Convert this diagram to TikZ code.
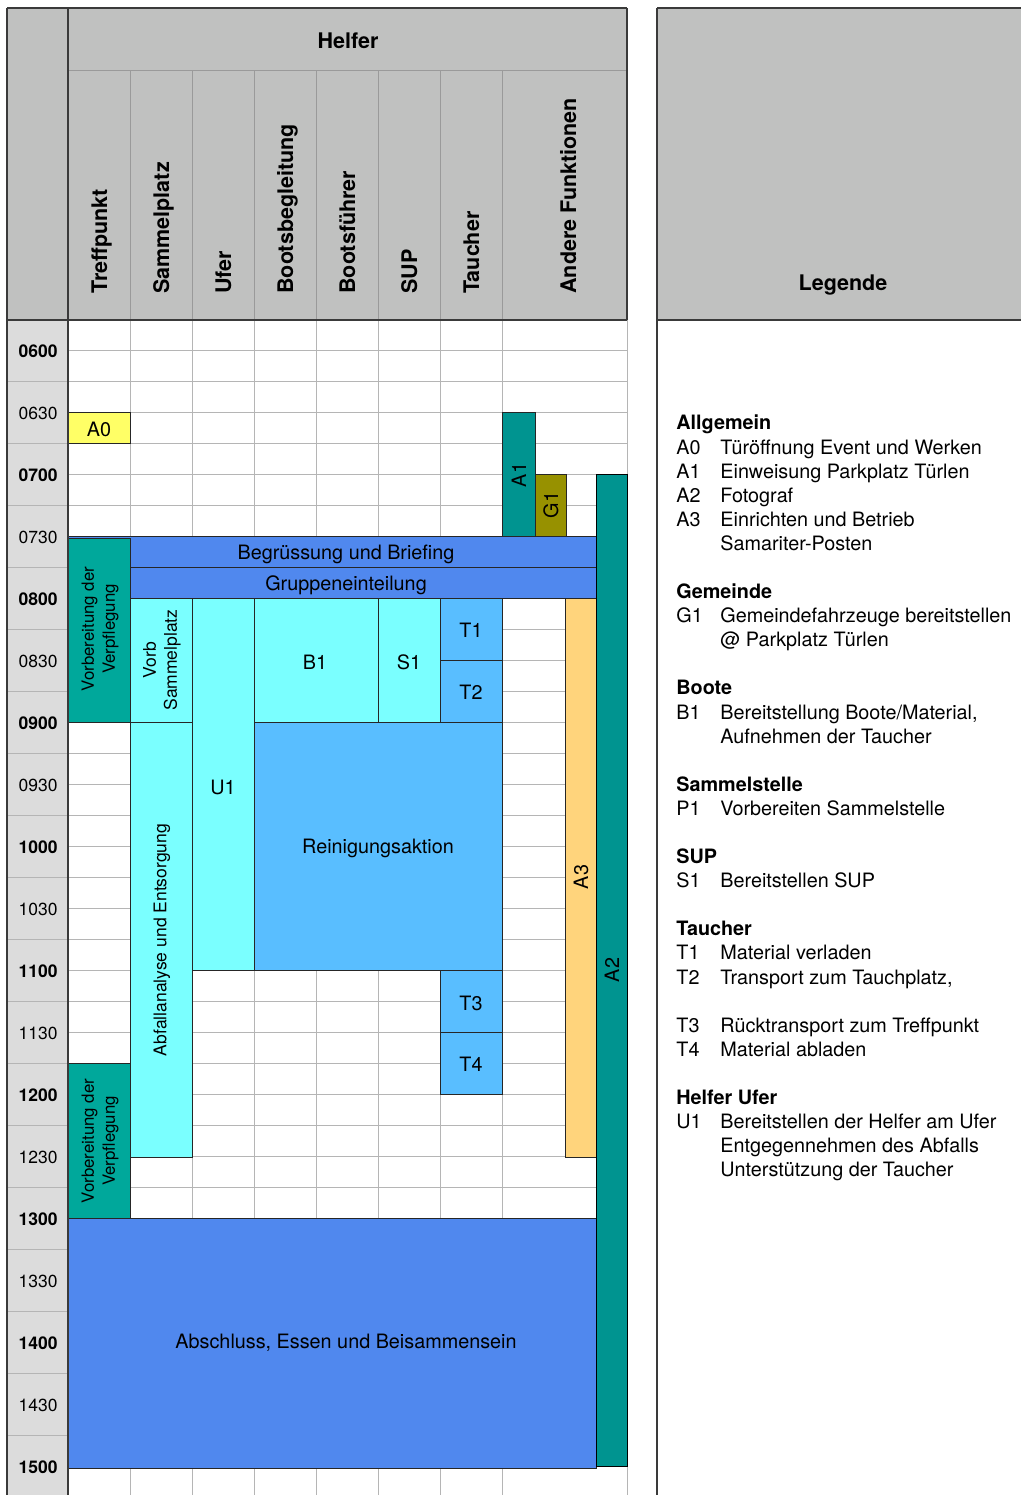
\documentclass[tikz,border=0pt]{standalone}
\usepackage{fontspec}
\setmainfont{TeX Gyre Heros}
\definecolor{hdr}{HTML}{C0C1C0}
\definecolor{tcol}{HTML}{DCDCDC}
\definecolor{gridc}{HTML}{B5B5B5}
\definecolor{framec}{HTML}{3A3A3A}
\definecolor{blueA}{HTML}{5088EE}
\definecolor{cyanA}{HTML}{7AFFFF}
\definecolor{lblue}{HTML}{59BEFF}
\definecolor{tealA}{HTML}{00A89B}
\definecolor{tealB}{HTML}{009490}
\definecolor{oliveA}{HTML}{979100}
\definecolor{orangeA}{HTML}{FFD47C}
\definecolor{yellowA}{HTML}{FFFF66}
\newcommand\fsMain{\fontsize{9.9pt}{12pt}\selectfont}
\newcommand\fsHead{\fontsize{10.75pt}{13pt}\selectfont\bfseries}
\newcommand\fsSmall{\fontsize{8.4pt}{10.5pt}\selectfont}
\newcommand\fsTime{\fontsize{8.75pt}{10pt}\selectfont}
\begin{document}
\begin{tikzpicture}[x=0.5pt,y=-0.5pt,
  gridline/.style={draw=gridc,line width=0.5pt},
  hdrline/.style={draw=gridc!85!black,line width=0.5pt},
  frameline/.style={draw=framec,line width=1.2pt},
  blkline/.style={draw=black!85,line width=0.5pt},
  lbl/.style={inner sep=0pt,font=\fsMain},
  rlbl/.style={inner sep=0pt,font=\fsMain,rotate=90},
  slbl/.style={inner sep=0pt,font=\fsSmall,rotate=90,align=center},
  colhead/.style={inner sep=0pt,font=\fsHead,rotate=90,anchor=base west},
  tlbl/.style={inner sep=0pt,anchor=east,font=\fsTime},
  leg/.style={inner sep=0pt,anchor=base west,font=\fsMain},
  legh/.style={inner sep=0pt,anchor=base west,font=\fsMain\bfseries}]
\useasboundingbox (0,0) rectangle (1021,1495);
% backgrounds
\fill[white] (0,0) rectangle (1021,1495);
\fill[hdr] (7,8) rectangle (627,320);
\fill[hdr] (657,8) rectangle (1021,320);
\fill[tcol] (7,320) rectangle (68,1495);
% grid
\foreach \k in {-1,...,37} \draw[gridline] (68,{350+31*\k}) -- (627,{350+31*\k});
\foreach \x in {130,192,254,316,378,440,502,627} \draw[gridline] (\x,320) -- (\x,1495);
\foreach \k in {0,...,17} \draw[gridline] (7,{381+62*\k}) -- (68,{381+62*\k});
% header lines
\draw[hdrline] (68,70) -- (627,70);
\foreach \x in {130,192,254,316,378,440,502} \draw[hdrline] (\x,70) -- (\x,320);
% time labels
\foreach \k in {0,...,18}{
  \pgfmathtruncatemacro{\isfull}{mod(\k,2)==0 ? 1 : 0}
  \pgfmathtruncatemacro{\hr}{6+floor(\k/2)}
  \ifnum\isfull=1
    \node[tlbl,font=\fsTime\bfseries] (t\k) at (58,{351.5+62*\k}) {\ifnum\hr<10 0\fi\hr00};
  \else
    \node[tlbl] (t\k) at (58,{351.5+62*\k}) {\ifnum\hr<10 0\fi\hr30};
  \fi
}
% blocks
\draw[blkline,fill=yellowA] (68,412) rectangle (130,443);
\node[lbl] (a0) at (99,429) {A0};
\draw[blkline,fill=tealB] (502,412) rectangle (535,536);
\node[rlbl] (a1) at (519,475) {A1};
\draw[blkline,fill=oliveA] (535,474) rectangle (566,536);
\node[rlbl] (g1) at (551,505) {G1};
\draw[blkline,fill=blueA] (68,536) rectangle (596,567);
\node[lbl] (begr) at (346,554) {Begrüssung und Briefing};
\draw[blkline,fill=blueA] (130,567) rectangle (596,598);
\node[lbl] (grup) at (346,585) {Gruppeneinteilung};
\draw[blkline,fill=tealA] (68,538) rectangle (130,722);
\node[slbl] (vv1) at (100,629) {Vorbereitung der\\Verpflegung};
\draw[blkline,fill=cyanA] (130,598) rectangle (192,722);
\node[slbl,font=\fontsize{8.75pt}{10.5pt}\selectfont] (vs) at (162,660) {Vorb\\Sammelplatz};
\draw[blkline,fill=cyanA] (130,722) rectangle (192,1157);
\node[slbl,font=\fontsize{8.75pt}{10.5pt}\selectfont] (abf) at (162,940) {Abfallanalyse und Entsorgung};
\draw[blkline,fill=cyanA] (192,598) rectangle (254,970);
\node[lbl] (u1) at (223,787) {U1};
\draw[blkline,fill=cyanA] (254,598) rectangle (378,722);
\node[lbl] (b1) at (315,662) {B1};
\draw[blkline,fill=cyanA] (378,598) rectangle (440,722);
\node[lbl] (s1) at (409,662) {S1};
\draw[blkline,fill=lblue] (440,598) rectangle (502,660);
\node[lbl] (t1) at (471,630) {T1};
\draw[blkline,fill=lblue] (440,660) rectangle (502,723);
\node[lbl] (t2) at (471,692) {T2};
\draw[blkline,fill=lblue] (254,722) rectangle (502,970);
\node[lbl] (rein) at (378,848) {Reinigungsaktion};
\draw[blkline,fill=lblue] (440,970) rectangle (502,1032);
\node[lbl] (t3) at (471,1003) {T3};
\draw[blkline,fill=lblue] (440,1032) rectangle (502,1094);
\node[lbl] (t4) at (471,1064) {T4};
\draw[blkline,fill=orangeA] (565,598) rectangle (596,1157);
\node[rlbl] (a3) at (581,877) {A3};
\draw[blkline,fill=tealA] (68,1063) rectangle (130,1218);
\node[slbl] (vv2) at (100,1141) {Vorbereitung der\\Verpflegung};
\draw[blkline,fill=blueA] (67,1218) rectangle (596,1468);
\node[lbl] (absch) at (346,1343) {Abschluss, Essen und Beisammensein};
\draw[blkline,draw=black,fill=tealB] (596,474) rectangle (627,1466);
\node[rlbl] (a2) at (612,970) {A2};
% frame
\draw[frameline] (7,8) -- (627,8);
\draw[frameline] (657,8) -- (1021,8);
\draw[frameline] (7,320) -- (627,320);
\draw[frameline] (657,320) -- (1021,320);
\draw[frameline] (7,8) -- (7,1495);
\draw[draw=framec,line width=0.8pt] (68,8) -- (68,1495);
\draw[frameline] (627,8) -- (627,320);
\draw[frameline] (657,8) -- (657,1495);
% headers
\node[inner sep=0pt,font=\fsHead] (helfer) at (348,41) {Helfer};
\node[colhead] (h1) at (107,294) {Treffpunkt};
\node[colhead] (h2) at (169,294) {Sammelplatz};
\node[colhead] (h3) at (231,294) {Ufer};
\node[colhead] (h4) at (293,294) {Bootsbegleitung};
\node[colhead] (h5) at (355,294) {Bootsführer};
\node[colhead] (h6) at (417,294) {SUP};
\node[colhead] (h7) at (479,294) {Taucher};
\node[colhead] (h8) at (576,294) {Andere Funktionen};
\node[inner sep=0pt,font=\fsHead] (legende) at (843,285) {Legende};
% legend
\node[legh] (l1) at (676,429) {Allgemein};
\node[leg] (l2a) at (676,454) {A0}; \node[leg] (l2b) at (720,454) {Türöffnung Event und Werken};
\node[leg] (l3a) at (676,478) {A1}; \node[leg] (l3b) at (720,478) {Einweisung Parkplatz Türlen};
\node[leg] (l4a) at (676,502) {A2}; \node[leg] (l4b) at (720,502) {Fotograf};
\node[leg] (l5a) at (676,526) {A3}; \node[leg] (l5b) at (720,526) {Einrichten und Betrieb};
\node[leg] (l6b) at (720,550) {Samariter-Posten};
\node[legh] (l7) at (676,598) {Gemeinde};
\node[leg] (l8a) at (676,622) {G1}; \node[leg] (l8b) at (720,622) {Gemeindefahrzeuge bereitstellen};
\node[leg] (l9b) at (720,646) {@ Parkplatz Türlen};
\node[legh] (l10) at (676,694) {Boote};
\node[leg] (l11a) at (676,719) {B1}; \node[leg] (l11b) at (720,719) {Bereitstellung Boote/Material,};
\node[leg] (l12b) at (720,743) {Aufnehmen der Taucher};
\node[legh] (l13) at (676,791) {Sammelstelle};
\node[leg] (l14a) at (676,815) {P1}; \node[leg] (l14b) at (720,815) {Vorbereiten Sammelstelle};
\node[legh] (l15) at (676,863) {SUP};
\node[leg] (l16a) at (676,887) {S1}; \node[leg] (l16b) at (720,887) {Bereitstellen SUP};
\node[legh] (l17) at (676,935) {Taucher};
\node[leg] (l18a) at (676,959) {T1}; \node[leg] (l18b) at (720,959) {Material verladen};
\node[leg] (l19a) at (676,984) {T2}; \node[leg] (l19b) at (720,984) {Transport zum Tauchplatz,};
\node[leg] (l20a) at (676,1032) {T3}; \node[leg] (l20b) at (720,1032) {Rücktransport zum Treffpunkt};
\node[leg] (l21a) at (676,1056) {T4}; \node[leg] (l21b) at (720,1056) {Material abladen};
\node[legh] (l22) at (676,1104) {Helfer Ufer};
\node[leg] (l23a) at (676,1128) {U1}; \node[leg] (l23b) at (720,1128) {Bereitstellen der Helfer am Ufer};
\node[leg] (l24b) at (720,1152) {Entgegennehmen des Abfalls};
\node[leg] (l25b) at (720,1176) {Unterstützung der Taucher};
\end{tikzpicture}
\end{document}
